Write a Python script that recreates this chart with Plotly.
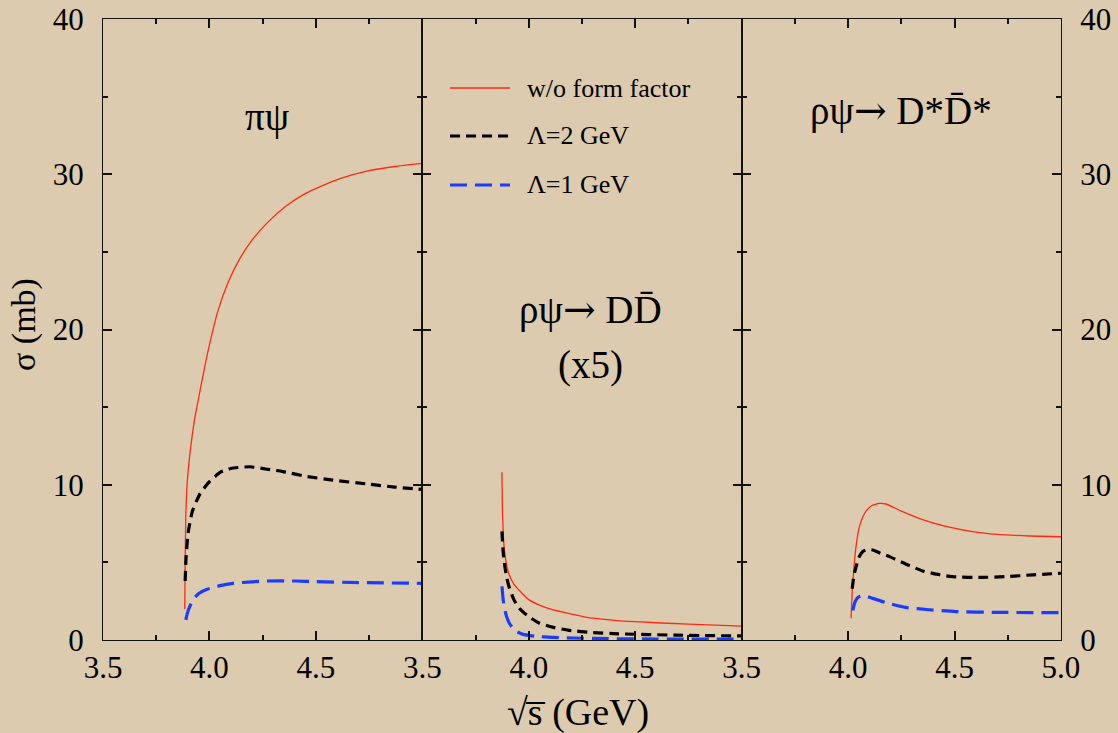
import plotly.graph_objects as go

# ---- cross sections sigma (mb) vs sqrt(s) (GeV) ----
# pi psi
pipsi_nff_x = [3.884, 3.886, 3.889, 3.895, 3.91, 3.93, 3.955, 3.99, 4.04, 4.09, 4.14, 4.20, 4.27, 4.36, 4.45, 4.52, 4.62, 4.74, 4.87, 5.0]
pipsi_nff_y = [2.0, 5.0, 8.0, 10.0, 12.2, 14.2, 16.0, 18.4, 21.2, 23.1, 24.5, 25.75, 26.85, 27.95, 28.75, 29.2, 29.75, 30.2, 30.5, 30.7]
pipsi_l2_x = [3.886, 3.890, 3.90, 3.92, 3.955, 4.0, 4.05, 4.1, 4.19, 4.27, 4.345, 4.45, 4.58, 4.74, 4.87, 5.0]
pipsi_l2_y = [3.8, 5.3, 6.9, 8.3, 9.4, 10.2, 10.8, 11.05, 11.16, 11.0, 10.85, 10.55, 10.3, 10.05, 9.85, 9.7]
pipsi_l1_x = [3.889, 3.90, 3.923, 3.95, 3.986, 4.05, 4.11, 4.2, 4.27, 4.4, 4.5, 4.7, 5.0]
pipsi_l1_y = [1.3, 1.9, 2.6, 3.0, 3.25, 3.5, 3.65, 3.75, 3.8, 3.8, 3.76, 3.7, 3.65]

# rho psi -> D Dbar (x5)
dd_nff_x = [3.874, 3.877, 3.884, 3.895, 3.908, 3.93, 3.955, 4.0, 4.05, 4.111, 4.19, 4.267, 4.38, 4.5, 4.75, 5.0]
dd_nff_y = [10.8, 8.0, 6.0, 4.9, 4.2, 3.6, 3.2, 2.6, 2.25, 1.95, 1.7, 1.48, 1.3, 1.18, 1.02, 0.9]
dd_l2_x = [3.874, 3.879, 3.884, 3.895, 3.908, 3.93, 3.955, 4.0, 4.048, 4.12, 4.19, 4.3, 4.42, 4.7, 5.0]
dd_l2_y = [7.0, 5.8, 5.1, 4.1, 3.4, 2.6, 2.05, 1.5, 1.1, 0.8, 0.62, 0.48, 0.4, 0.31, 0.26]
dd_l1_x = [3.874, 3.879, 3.884, 3.895, 3.908, 3.935, 3.97, 4.03, 4.11, 4.3, 4.6, 5.0]
dd_l1_y = [3.45, 2.7, 2.15, 1.55, 1.1, 0.6, 0.38, 0.24, 0.17, 0.1, 0.06, 0.05]

# rho psi -> D* Dbar*
dsds_nff_x = [4.014, 4.02, 4.03, 4.04, 4.053, 4.07, 4.084, 4.11, 4.147, 4.178, 4.25, 4.35, 4.45, 4.584, 4.7, 4.85, 5.0]
dsds_nff_y = [1.4, 3.3, 5.1, 6.3, 7.3, 7.95, 8.3, 8.65, 8.8, 8.76, 8.3, 7.75, 7.35, 6.98, 6.8, 6.7, 6.65]
dsds_l2_x = [4.019, 4.028, 4.038, 4.05, 4.069, 4.09, 4.116, 4.15, 4.194, 4.27, 4.35, 4.43, 4.506, 4.62, 4.74, 4.87, 5.0]
dsds_l2_y = [3.3, 4.2, 4.75, 5.3, 5.7, 5.82, 5.8, 5.6, 5.37, 4.9, 4.45, 4.2, 4.06, 4.03, 4.08, 4.2, 4.3]
dsds_l1_x = [4.022, 4.03, 4.038, 4.05, 4.069, 4.09, 4.116, 4.18, 4.27, 4.38, 4.506, 4.7, 5.0]
dsds_l1_y = [1.9, 2.35, 2.6, 2.78, 2.85, 2.8, 2.68, 2.4, 2.1, 1.95, 1.83, 1.78, 1.76]

series_names = ["w/o form factor", "\u039b=2 GeV", "\u039b=1 GeV"]
x_ticks = [3.5, 4.0, 4.5, 5.0]
x_minor = [3.75, 4.25, 4.75]
y_ticks = [0, 10, 20, 30, 40]
y_minor = [5, 15, 25, 35]

BG = "#dccbae"
FONT = "Liberation Serif"
INK = "#111111"

W, H = 1118, 733
ML, MR, MT, MB = 103, 57, 19, 93
PW, PH = W - ML - MR, H - MT - MB


def px_to_paper(px, py):
    """Convert page pixel position to paper coordinates."""
    return (px - ML) / PW, (H - MB - py) / PH


styles = [
    dict(color="#ff2a10", width=1.3, dash="solid"),
    dict(color="#000000", width=3.2, dash="10px,6px"),
    dict(color="#1a3cff", width=3.2, dash="17px,8px"),
]

panels = [
    [(pipsi_nff_x, pipsi_nff_y), (pipsi_l2_x, pipsi_l2_y), (pipsi_l1_x, pipsi_l1_y)],
    [(dd_nff_x, dd_nff_y), (dd_l2_x, dd_l2_y), (dd_l1_x, dd_l1_y)],
    [(dsds_nff_x, dsds_nff_y), (dsds_l2_x, dsds_l2_y), (dsds_l1_x, dsds_l1_y)],
]

fig = go.Figure()
for p, curves in enumerate(panels):
    xa = "x" if p == 0 else f"x{p + 1}"
    ya = "y" if p == 0 else f"y{p + 1}"
    for k, (xs, ys) in enumerate(curves):
        fig.add_trace(go.Scatter(
            x=xs, y=ys, mode="lines", xaxis=xa, yaxis=ya,
            name=series_names[k], legendgroup=f"g{k}", showlegend=False,
            line=dict(shape="spline", smoothing=0.5, **styles[k]),
        ))

frame = dict(showline=True, linecolor=INK, linewidth=1.3, mirror="ticks",
             ticks="inside", tickcolor=INK, tickwidth=1.5, ticklen=9,
             showgrid=False, zeroline=False, automargin=False,
             tickfont=dict(family=FONT, size=31, color="black"))

for p in range(3):
    labels = ["3.5", "4.0", "4.5", "5.0" if p == 2 else ""]
    key = "xaxis" if p == 0 else f"xaxis{p + 1}"
    fig.layout[key] = dict(
        domain=[p / 3, (p + 1) / 3], range=[3.5, 5.0],
        anchor="y" if p == 0 else f"y{p + 1}",
        tickmode="array", tickvals=x_ticks, ticktext=labels,
        minor=dict(tickmode="array", tickvals=x_minor, ticks="inside", ticklen=5,
                   tickcolor=INK, tickwidth=1.5),
        ticklabelstandoff=0,
        **frame,
    )
    ykey = "yaxis" if p == 0 else f"yaxis{p + 1}"
    fig.layout[ykey] = dict(
        range=[0, 40], anchor="x" if p == 0 else f"x{p + 1}",
        tickmode="array", tickvals=y_ticks,
        showticklabels=(p != 1), side="right" if p == 2 else "left",
        minor=dict(tickmode="array", tickvals=y_minor, ticks="inside", ticklen=5,
                   tickcolor=INK, tickwidth=1.5),
        ticklabelstandoff=12,
        **frame,
    )

label_font = dict(family=FONT, size=39, color="black")
ARROW = "<span style='font-family:DejaVu Serif'>\u2192</span>"
annotations = [
    dict(text="\u03c0\u03c8", x=4.27, y=33.7, xref="x", yref="y", showarrow=False, font=label_font),
    dict(text="\u03c1\u03c8" + ARROW + " DD\u0304", x=4.29, y=21.3, xref="x2", yref="y2",
         showarrow=False, font=label_font),
    dict(text="(x5)", x=4.29, y=17.7, xref="x2", yref="y2", showarrow=False, font=label_font),
    dict(text="\u03c1\u03c8" + ARROW + " D*D\u0304*", x=4.25, y=34.1, xref="x3", yref="y3",
         showarrow=False, font=label_font),
]

# x-axis title and (partly cut) y-axis title
tx, ty = px_to_paper(578, 712)
annotations.append(dict(text="\u221as\u0305 (GeV)", x=tx, y=ty, xref="paper", yref="paper",
                        xanchor="center", yanchor="middle", showarrow=False,
                        font=dict(family=FONT, size=38, color="black")))
sx, sy = px_to_paper(24, 325)
annotations.append(dict(text="\u03c3 (mb)", x=sx, y=sy, xref="paper", yref="paper",
                        xanchor="center", yanchor="middle", textangle=-90, showarrow=False,
                        font=dict(family=FONT, size=34, color="black")))

# legend: sample line + label for each series
shapes = []
legend_rows = [88, 136, 185]
for k, row in enumerate(legend_rows):
    x0, y0 = px_to_paper(450, row)
    x1, _ = px_to_paper(510, row)
    st = styles[k]
    shapes.append(dict(type="line", xref="paper", yref="paper", x0=x0, x1=x1, y0=y0, y1=y0,
                       line=dict(color=st["color"], width=st["width"], dash=st["dash"])))
    lx, ly = px_to_paper(525, row)
    annotations.append(dict(text=series_names[k], x=lx, y=ly, xref="paper", yref="paper",
                            xanchor="left", yanchor="middle", showarrow=False,
                            font=dict(family=FONT, size=26, color="black")))

fig.update_layout(
    width=W, height=H,
    margin=dict(l=ML, r=MR, t=MT, b=MB, autoexpand=False),
    paper_bgcolor=BG, plot_bgcolor=BG,
    annotations=annotations, shapes=shapes,
    showlegend=False,
)

fig.write_html("out.html")
